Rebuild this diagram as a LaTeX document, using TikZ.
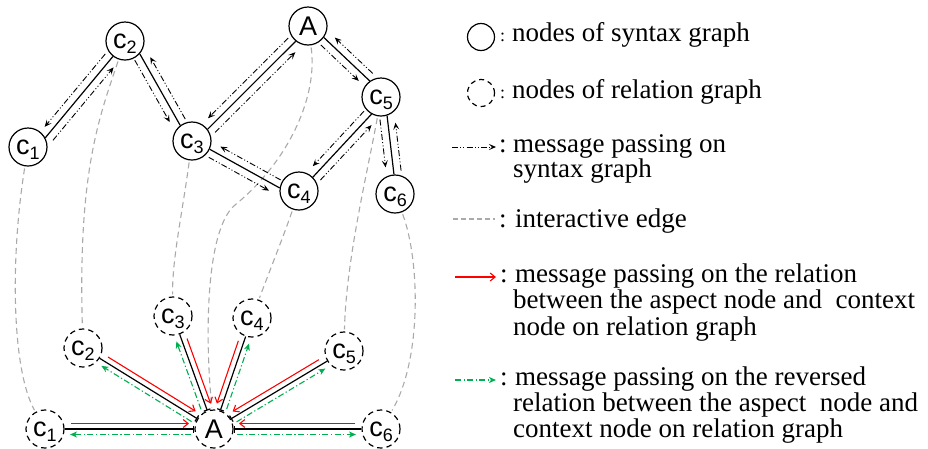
\documentclass[tikz,border=0pt]{standalone}
\usepackage{fontspec}
\setmainfont{Liberation Serif}
\newfontfamily\lblfont{Liberation Sans}
\usetikzlibrary{arrows.meta,calc}
\definecolor{mygreen}{RGB}{0,176,80}
\definecolor{intergray}{RGB}{170,170,170}
\newcommand{\csub}[1]{c\smash{\raisebox{-5.5pt}{\fontsize{18}{18}\selectfont #1}}}
\newcommand{\synedge}[4]{%
  \draw[synline] (#1.#2) -- (#3.#4);
  \draw[msg] ($(#1.#2)!3pt!(#3.#4)!7.5pt!-90:(#3.#4)$) -- ($(#3.#4)!8pt!(#1.#2)!7.5pt!90:(#1.#2)$);
  \draw[msg] ($(#3.#4)!3pt!(#1.#2)!7.5pt!-90:(#1.#2)$) -- ($(#1.#2)!8pt!(#3.#4)!7.5pt!90:(#3.#4)$);
}
\newcommand{\reledge}[3]{%
  \draw[relline] (#1) -- (bA);
  \draw[redarr] ($(#1)!26pt!(bA)!5.5pt!#2:(bA)$) -- ($(bA)!25pt!(#1)!5.5pt!#3:(#1)$);
  \draw[grnarr] ($(bA)!23pt!(#1)!5.5pt!#2:(#1)$) -- ($(#1)!25pt!(bA)!5.5pt!#3:(bA)$);
}
\tikzset{
  syn/.style={circle, draw, line width=1.2pt, minimum size=38pt, inner sep=0pt,
    font=\lblfont\fontsize{27}{27}\selectfont},
  rel/.style={syn, dash pattern=on 5.5pt off 4pt},
  synline/.style={line width=1.2pt},
  msg/.style={line width=0.9pt, dash pattern=on 6pt off 2.2pt on 1pt off 2.2pt on 1pt off 2.2pt,
    -{Stealth[length=7pt,width=6pt,inset=3pt]}},
  relline/.style={line width=1.2pt, -{Bar[width=7pt]}},
  redarr/.style={red, line width=1.1pt, -{Straight Barb[length=5pt,width=8pt]}},
  grnarr/.style={mygreen, line width=1.1pt, dash pattern=on 6pt off 2.5pt on 1.2pt off 2.5pt,
    -{Stealth[length=7pt,width=6pt,inset=2pt]}},
  inter/.style={intergray, line width=1.1pt, dash pattern=on 6pt off 4pt, shorten <=2pt, shorten >=2pt},
  lgtext/.style={anchor=base west, inner sep=0pt, font=\fontsize{27}{27}\selectfont},
  lgcolon/.style={anchor=base west, inner sep=0pt},
}
\begin{document}
\begin{tikzpicture}[x=1pt,y=-1pt]
\useasboundingbox (0,0) rectangle (928,448);
% syntax graph nodes
\node[syn] (t1) at (28,147) {\csub{1}};
\node[syn] (t2) at (125,41) {\csub{2}};
\node[syn] (t3) at (192,141) {\csub{3}};
\node[syn] (tA) at (308,26) {A};
\node[syn] (t5) at (381,97) {\csub{5}};
\node[syn] (t4) at (299,191) {\csub{4}};
\node[syn] (t6) at (395,194) {\csub{6}};
% relation graph nodes
\node[rel] (b1) at (45,429) {\csub{1}};
\node[rel] (b2) at (83,348) {\csub{2}};
\node[rel] (b3) at (173,316) {\csub{3}};
\node[rel] (b4) at (252,318) {\csub{4}};
\node[rel] (b5) at (344,351) {\csub{5}};
\node[rel] (bA) at (214,429) {A};
\node[rel] (b6) at (381,429) {\csub{6}};
% interactive edges
\draw[inter] (t1) .. controls (10,260) and (12,370) .. (b1);
\draw[inter] (t2) .. controls (98,120) and (78,175) .. (b2);
\draw[inter] (t3) .. controls (182,215) and (172,260) .. (b3);
\draw[inter] (tA) .. controls (318,95) and (290,160) .. (235,205) .. controls (205,230) and (205,340) .. (bA);
\draw[inter] (t4) .. controls (284,235) and (268,275) .. (b4);
\draw[inter] (t5) .. controls (368,170) and (346,260) .. (b5);
\draw[inter] (t6) .. controls (420,260) and (422,360) .. (b6);
% syntax graph edges
\synedge{t1}{28}{t2}{232}
\synedge{t2}{-41}{t3}{127}
\synedge{t3}{37}{tA}{231}
\synedge{tA}{-36}{t5}{125}
\synedge{t5}{241}{t4}{45}
\synedge{t4}{171}{t3}{-25}
\synedge{t5}{-72}{t6}{93}
% relation graph edges
\reledge{b1}{90}{-90}
\reledge{b2}{90}{-90}
\reledge{b3}{90}{-90}
\reledge{b4}{-90}{90}
\reledge{b5}{-90}{90}
\reledge{b6}{-90}{90}
% legend
\node[circle, draw, line width=1.2pt, minimum size=27pt, inner sep=0pt] (lg1) at (481,37) {};
\node[lgcolon, font=\fontsize{18}{18}\selectfont] (lc1) at (500,41) {:};
\node[lgtext] (lt1) at (512,41) {nodes of syntax graph};
\node[circle, draw, line width=1.2pt, dash pattern=on 5pt off 4pt, minimum size=27pt, inner sep=0pt] (lg2) at (481,93) {};
\node[lgcolon, font=\fontsize{18}{18}\selectfont] (lc2) at (500,98) {:};
\node[lgtext] (lt2) at (512,98) {nodes of relation graph};
\coordinate (l3a) at (452,147);
\coordinate (l3b) at (496,147);
\draw[msg] (l3a) -- (l3b);
\node[lgtext] (lc3) at (499,152) {:};
\node[lgtext] (lt3a) at (513,152) {message passing on};
\node[lgtext] (lt3b) at (513,177) {syntax graph};
\coordinate (l4a) at (453,219);
\coordinate (l4b) at (495,219);
\draw[inter, shorten <=0pt, shorten >=0pt, dash pattern=on 5pt off 3pt] (l4a) -- (l4b);
\node[lgtext] (lc4) at (499,227) {:};
\node[lgtext] (lt4) at (515,227) {interactive edge};
\coordinate (l5a) at (455,277);
\coordinate (l5b) at (496,277);
\draw[redarr] (l5a) -- (l5b);
\node[lgtext] (lc5) at (500,282) {:};
\node[lgtext] (lt5a) at (515,282) {message passing on the relation};
\node[lgtext] (lt5b) at (513,308) {between the aspect node and\ \ context};
\node[lgtext] (lt5c) at (513,335) {node on relation graph};
\coordinate (l6a) at (455,380);
\coordinate (l6b) at (496,380);
\draw[grnarr] (l6a) -- (l6b);
\node[lgtext] (lc6) at (500,385) {:};
\node[lgtext] (lt6a) at (515,385) {message passing on the reversed};
\node[lgtext] (lt6b) at (513,411) {relation between the aspect\ \ node and};
\node[lgtext] (lt6c) at (513,437) {context node on relation graph};
\end{tikzpicture}
\end{document}
